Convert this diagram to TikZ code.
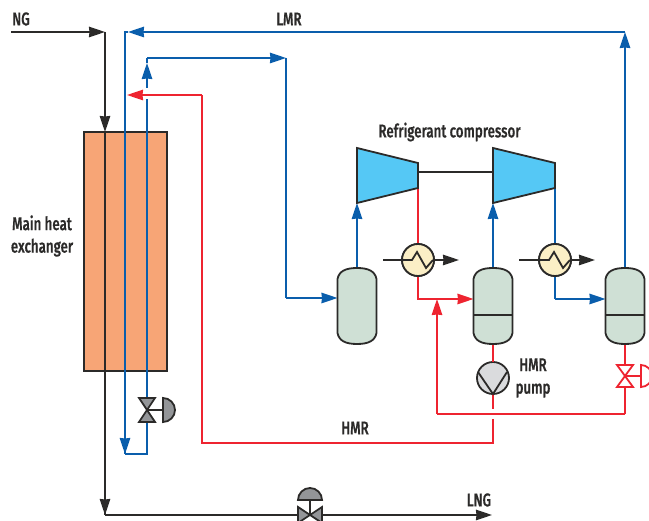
\documentclass[tikz,border=0pt]{standalone}
\usepackage{fontspec}
\setmainfont[FakeStretch=0.72,FakeBold=0.6]{Fira Sans Medium}
\usetikzlibrary{arrows.meta,calc}
\definecolor{dk}{HTML}{2B2A29}
\definecolor{bl}{HTML}{0A5EAC}
\definecolor{rd}{HTML}{EE2430}
\definecolor{hxc}{HTML}{F7A576}
\definecolor{cmp}{HTML}{55C8F5}
\definecolor{ves}{HTML}{CFE0D5}
\definecolor{crm}{HTML}{FBEFC6}
\definecolor{gv}{HTML}{939598}
\definecolor{pg}{HTML}{DADBDD}
\tikzset{
  flow/.style={line width=1.8pt,line join=miter},
  blk/.style={flow,draw=dk},
  blu/.style={flow,draw=bl},
  red/.style={flow,draw=rd},
  tip/.style={-{Stealth[length=16pt,width=10.5pt,inset=0.5pt]}},
  outl/.style={draw=dk,line width=1.8pt,line join=miter},
  lbl/.style={font=\fontsize{18.5}{22.5}\selectfont,text=dk,align=center,inner sep=0pt},
  anch/.style={inner sep=0pt,outer sep=0pt,rectangle},
  vessel/.style={anch,minimum width=39pt,minimum height=76pt},
  cooler/.style={circle,draw=dk,fill=crm,line width=1.8pt,minimum size=32pt,inner sep=0pt,outer sep=0pt},
}
\newcommand{\drawvessel}[1]{%
  \draw[outl,fill=ves] ($(#1.north west)+(0,11)$) .. controls ($(#1.north west)+(1.5,3.5)$) and ($(#1.north)+(-12,0)$) .. (#1.north)
    .. controls ($(#1.north)+(12,0)$) and ($(#1.north east)+(-1.5,3.5)$) .. ($(#1.north east)+(0,11)$)
    -- ($(#1.south east)+(0,-11)$)
    .. controls ($(#1.south east)+(-1.5,-3.5)$) and ($(#1.south)+(12,0)$) .. (#1.south)
    .. controls ($(#1.south)+(-12,0)$) and ($(#1.south west)+(1.5,-3.5)$) .. ($(#1.south west)+(0,-11)$) -- cycle;}
\newcommand{\zigzag}[1]{\draw[draw=dk,line width=1.8pt] ($(#1)+(-15,0)$) -- ($(#1)+(-6,0)$) -- ($(#1)+(-1,-8)$) -- ($(#1)+(8,8)$) -- ($(#1)+(15,0)$);}
\begin{document}
\begin{tikzpicture}[x=1pt,y=-1pt]
\useasboundingbox (0,0) rectangle (649,521);
% main exchanger
\node[anch,draw=dk,fill=hxc,line width=1.8pt,minimum width=83pt,minimum height=239pt] (hx) at (125.5,251.5) {};
% coordinates
\coordinate (ngstart) at (11,32);
\coordinate (ngc) at (105,32);
\coordinate (hxin) at (105,132);
\coordinate (ngbot) at (105,515);
\coordinate (lngend) at (492,515);
\coordinate (lmrR) at (625,32);
\coordinate (lmrL) at (125,32);
\coordinate (lmrtip) at (128,32);
\coordinate (lmrd) at (125,454);
\coordinate (blc) at (147,454);
\coordinate (bgapA) at (147,99);
\coordinate (bgapB) at (147,88);
\coordinate (btip) at (147,63);
\coordinate (btop) at (147,58);
\coordinate (btr) at (286,58);
\coordinate (bmid) at (286,298);
\coordinate (rtip) at (127,95);
\coordinate (rc) at (202,95);
\coordinate (rb) at (202,443);
\coordinate (rbr) at (493,443);
\coordinate (rgapA) at (493,419);
\coordinate (rgapB) at (493,409);
\coordinate (rloopL) at (437,414);
\coordinate (rloopR) at (625,414);
\coordinate (rjoin) at (437,299);
\coordinate (rcorn) at (418,299);
\coordinate (bcorn) at (555,299);
% equipment anchors
\node[vessel] (v1) at (357,306) {};
\node[vessel] (v2) at (493,306) {};
\node[vessel] (v3) at (625,306) {};
\node[cooler] (c1) at (418,260) {};
\node[cooler] (c2) at (555,260) {};
\node[circle,draw=dk,fill=pg,line width=1.8pt,minimum size=32pt,inner sep=0pt,outer sep=0pt] (pump) at (493,378) {};
\coordinate (k1in) at (357,203);
\coordinate (k1out) at (418,188);
\coordinate (k2in) at (493,203);
\coordinate (k2out) at (555,188);
\coordinate (shA) at (418,172);
\coordinate (shB) at (493,172);
\coordinate (hv) at (147,410);
\coordinate (rv) at (625,376);
\coordinate (bv) at (310,515);
\coordinate (cAw) at (383,260);
\coordinate (cAe) at (459,260);
\coordinate (cBw) at (519,260);
\coordinate (cBe) at (595,260);
% black process lines
\draw[blk,tip] (ngstart) -- (ngc);
\draw[blk,tip] (ngc) -- (hxin);
\draw[blk] (hxin) -- (ngbot);
\draw[blk,tip] (hxin) -- (ngbot);
\draw[blk,tip] (ngbot) -- (lngend);
% blue
\draw[blu,tip] (v3.north) -- (lmrR);
\draw[blu,tip] (lmrR) -- (lmrtip);
\draw[blu] (lmrtip) -- (lmrL) -- (lmrd);
\draw[blu,tip] (lmrL) -- (lmrd);
\draw[blu] (lmrd) -- (blc) -- (hv);
\draw[blu] (hv) -- (bgapA);
\draw[blu,tip] (bgapB) -- (btip);
\draw[blu] (btip) -- (btop);
\draw[blu,tip] (btop) -- (btr);
\draw[blu] (btr) -- (bmid);
\draw[blu,tip] (bmid) -- (v1.west|-bmid);
\draw[blu,tip] (v1.north) -- (k1in);
\draw[blu,tip] (v2.north) -- (k2in);
\draw[blu] (k2out) -- (c2.north);
\draw[blu] (c2.south) -- (bcorn);
\draw[blu,tip] (bcorn) -- (v3.west|-bcorn);
% red
\draw[red] (k1out) -- (c1.north);
\draw[red] (c1.south) -- (rcorn) -- (rjoin);
\draw[red,tip] (rjoin) -- (v2.west|-rjoin);
\draw[red,tip] (rloopL) -- (rjoin);
\draw[red] (rloopR) -- (rloopL);
\draw[red] (v3.south) -- (rloopR);
\draw[red] (v2.south) -- (pump.north);
\draw[red] (pump.south) -- (rgapB);
\draw[red] (rgapA) -- (rbr) -- (rb) -- (rc);
\draw[red,tip] (rc) -- (rtip);
% vessels
\drawvessel{v1}
\drawvessel{v2}
\drawvessel{v3}
\draw[outl] ($(v2.west)+(0,9)$) -- ($(v2.east)+(0,9)$);
\draw[outl] ($(v3.west)+(0,9)$) -- ($(v3.east)+(0,9)$);
% compressors
\draw[blk] (shA) -- (shB);
\draw[outl,fill=cmp] (k1in) -- (357,148) -- (418,163) -- (k1out) -- cycle;
\draw[outl,fill=cmp] (k2in) -- (493,148) -- (555,163) -- (k2out) -- cycle;
% coolers
\draw[blk,tip] (cAw) -- (cAe);
\draw[blk,tip] (cBw) -- (cBe);
\node[cooler] at (c1) {};
\node[cooler] at (c2) {};
\zigzag{c1}
\zigzag{c2}
% pump glyph
\draw[draw=dk,line width=1.8pt] (478,372) -- (pump.south) -- (507,372);
% grey valve (HX)
\draw[outl,fill=gv] ($(hv)+(-8,-12)$) -- ($(hv)+(8,-12)$) -- ($(hv)+(-8,12)$) -- ($(hv)+(8,12)$) -- cycle;
\draw[outl] (hv) -- ($(hv)+(16,0)$);
\draw[outl,fill=gv] ($(hv)+(16,-12)$) arc[start angle=90,end angle=-90,radius=12pt] -- cycle;
% red valve
\draw[flow,draw=rd,fill=white] ($(rv)+(-8,-11)$) -- ($(rv)+(8,-11)$) -- ($(rv)+(-8,11)$) -- ($(rv)+(8,11)$) -- cycle;
\draw[flow,draw=rd] (rv) -- ($(rv)+(16,0)$);
\draw[flow,draw=rd,fill=white] ($(rv)+(16,-11)$) arc[start angle=90,end angle=-90,radius=11pt] -- cycle;
% bottom valve
\draw[outl,fill=gv] ($(bv)+(-12,-8)$) -- ($(bv)+(12,8)$) -- ($(bv)+(12,-8)$) -- ($(bv)+(-12,8)$) -- cycle;
\draw[outl] (bv) -- ($(bv)+(0,-15)$);
\draw[outl,fill=gv] ($(bv)+(-12,-15)$) arc[start angle=180,end angle=0,radius=12pt] -- cycle;
% labels
\node[lbl] (tng) at (21,19) {NG};
\node[lbl] (tlmr) at (289,19) {LMR};
\node[lbl] (thmr) at (355,428) {HMR};
\node[lbl] (tlng) at (479,500) {LNG};
\node[lbl] (tcomp) at (449.5,132) {Refrigerant compressor};
\node[lbl] (thx) at (42,236) {Main heat\\exchanger};
\node[lbl] (tpump) at (533,378) {HMR\\pump};
\end{tikzpicture}
\end{document}
